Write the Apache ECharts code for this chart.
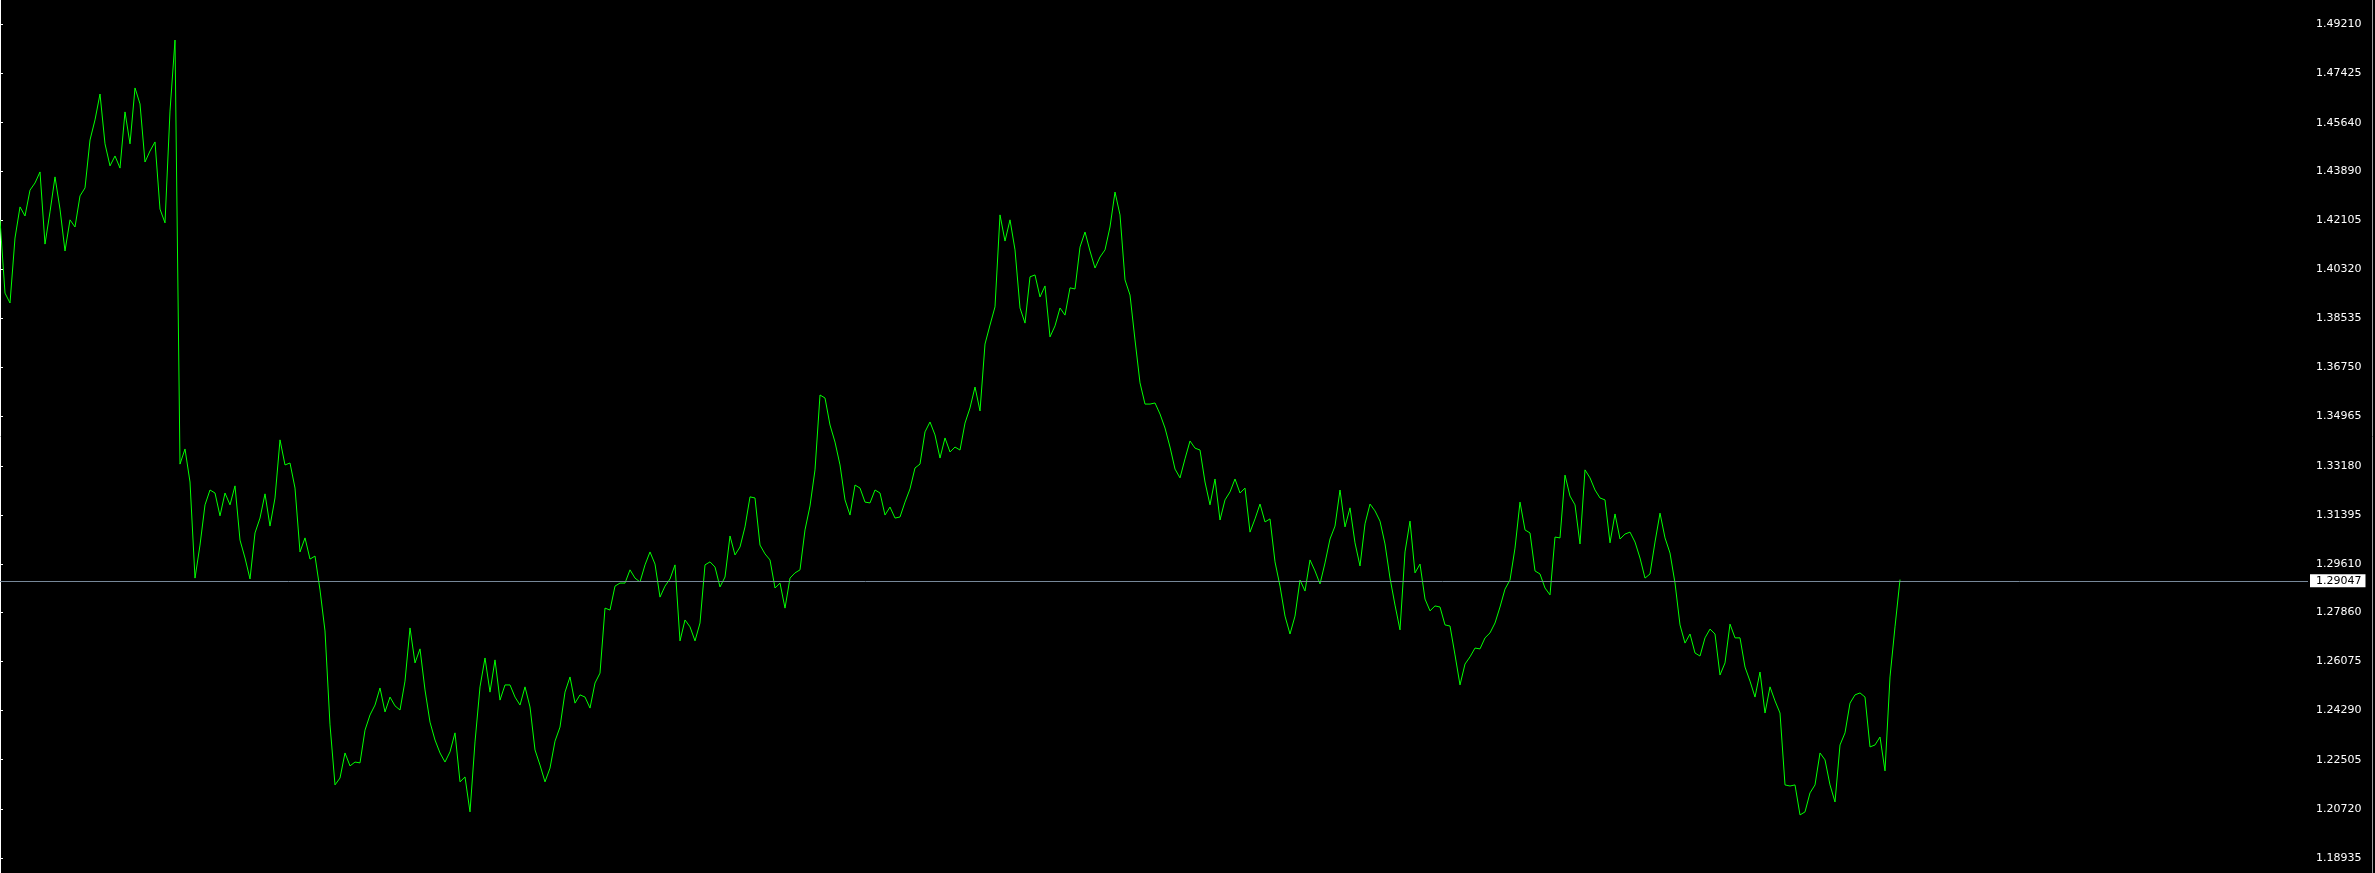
<!DOCTYPE html>
<html>
<head>
<meta charset="utf-8">
<style>
  html, body { margin: 0; padding: 0; background: #000; }
  #chart { width: 2375px; height: 873px; }
</style>
<script src="https://cdn.jsdelivr.net/npm/echarts@6/dist/echarts.min.js"></script>
</head>
<body>
<div id="chart"></div>
<script>
// Price axis labels (right side)
const axisLabels = ["1.49210","1.47425","1.45640","1.43890","1.42105","1.40320","1.38535","1.36750","1.34965",
  "1.33180","1.31395","1.29610","1.27860","1.26075","1.24290","1.22505","1.20720","1.18935"];

// Current (last) price shown by the horizontal line
const lastPrice = 1.29047;
const lastPriceLabel = "1.29047";

// Close prices, one per bar, in time order
const closePrices = [
  1.4211, 1.3945, 1.3909, 1.4145, 1.4258, 1.4225, 1.4319, 1.4345, 1.4385, 1.4123,
  1.4240, 1.4367, 1.4250, 1.4098, 1.4211, 1.4185, 1.4298, 1.4327, 1.4501, 1.4574,
  1.4668, 1.4487, 1.4407, 1.4443, 1.4399, 1.4603, 1.4487, 1.4690, 1.4632, 1.4421,
  1.4461, 1.4494, 1.4250, 1.4200, 1.4606, 1.4864, 1.3324, 1.3379, 1.3259, 1.2910,
  1.3030, 1.3176, 1.3230, 1.3219, 1.3136, 1.3219, 1.3176, 1.3245, 1.3048,
  1.2983, 1.2907, 1.3074, 1.3128, 1.3216, 1.3099, 1.3201, 1.3412, 1.3321, 1.3328,
  1.3237, 1.3005, 1.3056, 1.2979, 1.2990, 1.2867, 1.2718, 1.2377, 1.2159, 1.2184,
  1.2275, 1.2228, 1.2242, 1.2239, 1.2358, 1.2413, 1.2449, 1.2511, 1.2424, 1.2478,
  1.2446, 1.2431, 1.2536, 1.2729, 1.2602, 1.2653, 1.2504, 1.2387, 1.2322, 1.2275,
  1.2242, 1.2279, 1.2348, 1.2170, 1.2188, 1.2061,
  1.2315, 1.2515, 1.2620, 1.2496, 1.2613, 1.2467, 1.2522, 1.2522, 1.2478, 1.2449,
  1.2515, 1.2442, 1.2286, 1.2231, 1.2170, 1.2220, 1.2318, 1.2369, 1.2496, 1.2551,
  1.2456, 1.2486, 1.2478, 1.2438, 1.2529, 1.2565, 1.2801, 1.2794, 1.2881, 1.2892,
  1.2892, 1.2940, 1.2910, 1.2896, 1.2958, 1.3005, 1.2961, 1.2841, 1.2881, 1.2907,
  1.2958, 1.2682, 1.2758, 1.2733, 1.2682, 1.2747, 1.2958, 1.2969, 1.2950,
  1.2878, 1.2914, 1.3063, 1.2994, 1.3023, 1.3096, 1.3205, 1.3201, 1.3030, 1.2998,
  1.2976, 1.2874, 1.2892, 1.2801, 1.2910, 1.2929, 1.2940, 1.3085, 1.3172, 1.3303,
  1.3575, 1.3564, 1.3466, 1.3404, 1.3321, 1.3194, 1.3139, 1.3248, 1.3237, 1.3186,
  1.3183, 1.3230, 1.3219, 1.3139, 1.3168, 1.3128, 1.3132, 1.3186, 1.3234, 1.3310,
  1.3324, 1.3441, 1.3477, 1.3430, 1.3346, 1.3419, 1.3368,
  1.3386, 1.3375, 1.3473, 1.3528, 1.3604, 1.3517, 1.3760, 1.3829, 1.3895, 1.4229,
  1.4134, 1.4211, 1.4102, 1.3891, 1.3836, 1.4004, 1.4011, 1.3931, 1.3971, 1.3786,
  1.3826, 1.3891, 1.3865, 1.3964, 1.3960, 1.4112, 1.4167, 1.4098, 1.4036, 1.4076,
  1.4102, 1.4185, 1.4312, 1.4229, 1.3993, 1.3938, 1.3775, 1.3619, 1.3542, 1.3542,
  1.3546, 1.3506, 1.3455, 1.3386, 1.3306, 1.3274, 1.3343, 1.3408,
  1.3382, 1.3375, 1.3259, 1.3176, 1.3270, 1.3121, 1.3194, 1.3223, 1.3270, 1.3219,
  1.3237, 1.3077, 1.3125, 1.3179, 1.3114, 1.3125, 1.2969, 1.2881, 1.2772, 1.2707,
  1.2772, 1.2903, 1.2863, 1.2976, 1.2936, 1.2889, 1.2965, 1.3052, 1.3099, 1.3230,
  1.3096, 1.3165, 1.3038, 1.2954, 1.3107, 1.3179, 1.3154, 1.3117, 1.3034, 1.2910,
  1.2812, 1.2722, 1.3005, 1.3117, 1.2929, 1.2961, 1.2834, 1.2791,
  1.2809, 1.2805, 1.2740, 1.2736, 1.2631, 1.2522, 1.2598, 1.2624, 1.2656, 1.2653,
  1.2693, 1.2711, 1.2747, 1.2805, 1.2870, 1.2903, 1.3019, 1.3186, 1.3085, 1.3074,
  1.2936, 1.2925, 1.2874, 1.2849, 1.3059, 1.3056, 1.3284, 1.3208, 1.3176, 1.3034,
  1.3303, 1.3274, 1.3230, 1.3201, 1.3194, 1.3038, 1.3143, 1.3052, 1.3070, 1.3077,
  1.3041, 1.2983, 1.2910, 1.2925, 1.3041, 1.3146, 1.3056, 1.3001, 1.2892, 1.2740,
  1.2674, 1.2707, 1.2638, 1.2627, 1.2693, 1.2725, 1.2707, 1.2558, 1.2602, 1.2743,
  1.2693, 1.2693, 1.2587, 1.2536, 1.2478, 1.2569, 1.2420, 1.2515, 1.2464, 1.2420,
  1.2159, 1.2155, 1.2159, 1.2050, 1.2061, 1.2130, 1.2159, 1.2275, 1.2250, 1.2159,
  1.2097, 1.2304, 1.2348, 1.2456, 1.2486, 1.2493, 1.2478, 1.2297, 1.2304, 1.2333,
  1.2210, 1.2551, 1.2733, 1.29047
];

const tickValues = axisLabels.map(s => parseFloat(s));
const seriesData = closePrices.map((v, i) => [i, v]);

const FONT = 'DejaVu Sans';
const chart = echarts.init(document.getElementById('chart'), null, { renderer: 'canvas' });
chart.setOption({
  backgroundColor: '#000000',
  animation: false,
  grid: { left: 0, right: 67, top: 0, bottom: 0, containLabel: false },
  xAxis: {
    type: 'value',
    min: 0,
    max: 461.6,
    show: false
  },
  yAxis: {
    type: 'value',
    position: 'right',
    min: 1.18391,
    max: 1.50094,
    splitLine: { show: false },
    axisLine: { show: true, lineStyle: { color: '#ffffff', width: 1 } },
    axisTick: { show: true, length: 3, lineStyle: { color: '#ffffff', width: 1 }, customValues: tickValues },
    axisLabel: {
      show: true,
      color: '#ffffff',
      fontFamily: FONT,
      fontSize: 11,
      margin: 8,
      customValues: tickValues,
      formatter: v => v.toFixed(5)
    }
  },
  series: [{
    type: 'line',
    data: seriesData,
    symbol: 'none',
    showSymbol: false,
    sampling: 'none',
    lineStyle: { color: '#00ff00', width: 1 },
    itemStyle: { color: '#00ff00' },
    markLine: {
      silent: true,
      symbol: 'none',
      animation: false,
      lineStyle: { color: '#778899', width: 1, type: 'solid' },
      label: {
        show: true,
        position: 'end',
        distance: 2,
        formatter: lastPriceLabel,
        color: '#000000',
        backgroundColor: '#ffffff',
        fontFamily: FONT,
        fontSize: 11,
        lineHeight: 13,
        padding: [0, 4, 0, 6]
      },
      data: [{ yAxis: lastPrice }]
    }
  }],
  graphic: [{
    type: 'line',
    silent: true,
    shape: { x1: 2372.5, y1: 0, x2: 2372.5, y2: 873 },
    style: { stroke: '#a0a0a0', lineWidth: 1 }
  }]
});
</script>
</body>
</html>
